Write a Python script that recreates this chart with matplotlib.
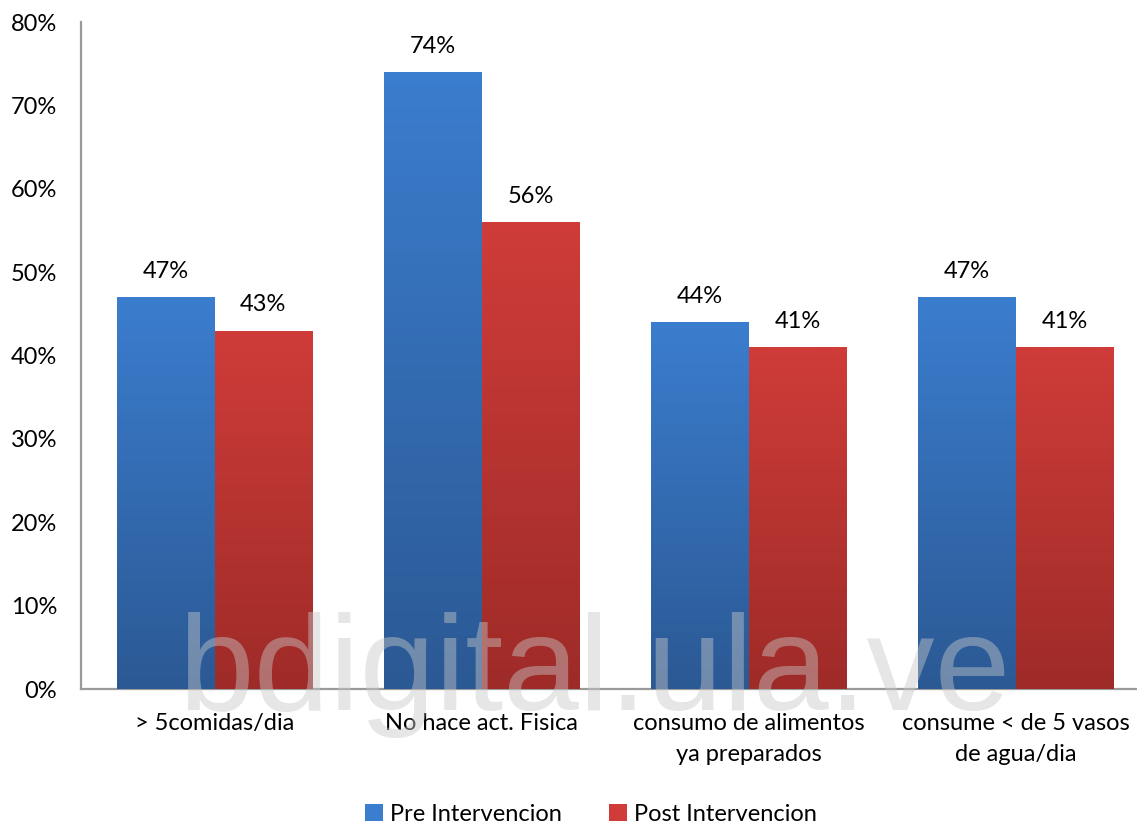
import matplotlib
matplotlib.use('Agg')
import matplotlib.pyplot as plt
from matplotlib.patches import Patch
import numpy as np

categories = ['> 5comidas/dia', 'No hace act. Fisica',
              'consumo de alimentos\nya preparados', 'consume < de 5 vasos\nde agua/dia']
pre = [47, 74, 44, 47]
post = [43, 56, 41, 41]
series_names = ['Pre Intervencion', 'Post Intervencion']
yticks = [0, 10, 20, 30, 40, 50, 60, 70, 80]

# gradient colours (top, bottom)
blue = ('#3b7dce', '#2b5994')
red = ('#cf3c39', '#9e2b28')

plt.rcParams['font.family'] = ['Lato', 'DejaVu Sans']
fs = 17

fig = plt.figure(figsize=(11.37, 8.24), dpi=100)
ax = fig.add_axes([0.0712, 0.1638, 0.9288, 0.8095])

x = np.arange(len(categories))
w = 0.365


def gradient_bars(xs, vals, cols, offset):
    bars = ax.bar(xs + offset, vals, width=w, color=cols[0], zorder=2)
    cmap = matplotlib.colors.LinearSegmentedColormap.from_list('g', [cols[1], cols[0]])
    grad = np.linspace(0, 1, 256).reshape(-1, 1)
    for b in bars:
        x0 = b.get_x()
        x1, y1 = x0 + b.get_width(), b.get_height()
        # darker at the bottom, lighter near the top of the bar
        im = ax.imshow(grad, cmap=cmap, origin='lower', aspect='auto',
                       extent=[x0, x1, 0, y1], zorder=3, vmin=0, vmax=1)
        im.set_clip_path(b)
    for b, v in zip(bars, vals):
        ax.annotate(f'{v}%', (b.get_x() + b.get_width() / 2, v),
                    xytext=(0, 11), textcoords='offset points',
                    ha='center', va='bottom', fontsize=fs, zorder=5)
    return bars


gradient_bars(x, pre, blue, -w / 2)
gradient_bars(x, post, red, w / 2)

ax.set_xlim(-0.5, 3.453)
ax.set_ylim(0, 80)
ax.set_yticks(yticks)
ax.set_yticklabels([f'{t}%' for t in yticks], fontsize=fs)
ax.set_xticks(x)
ax.set_xticklabels(categories, fontsize=fs, linespacing=1.6)
ax.tick_params(axis='y', length=0, pad=17)
ax.tick_params(axis='x', length=0, pad=17)
for s in ['top', 'right']:
    ax.spines[s].set_visible(False)
for s in ['left', 'bottom']:
    ax.spines[s].set_color('#9a9a9a')
    ax.spines[s].set_linewidth(1.6)

# watermark
fig.text(0.523, 0.138, 'bdigital.ula.ve', fontsize=98, color='#c8c8c8', alpha=0.45,
         ha='center', va='baseline', family='Liberation Sans', zorder=10)

handles = [Patch(facecolor=blue[0]), Patch(facecolor=red[0])]
fig.legend(handles, series_names, loc='lower center', bbox_to_anchor=(0.52, -0.027),
           ncol=2, frameon=False, fontsize=fs, handlelength=0.75, handleheight=0.75,
           handletextpad=0.3, columnspacing=2.0)

fig.savefig('out.png', dpi=100)
